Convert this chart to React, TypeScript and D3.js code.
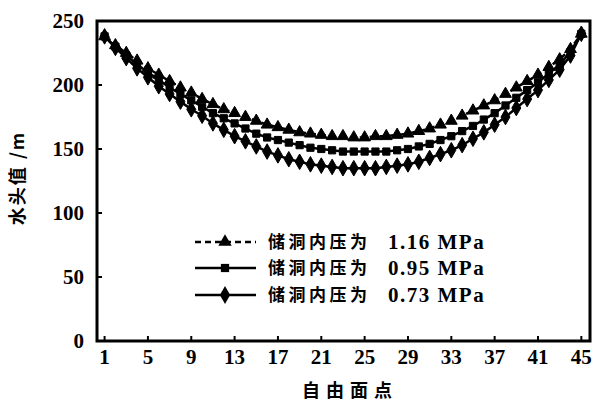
import React from "react";
import * as d3 from "d3";

const points = d3.range(1, 46);
const s116 = [238,231,225,219,213,208,203,198,194,189,185,181,178,175,172,169,167,165,163,162,161,160,160,159,159,160,160,161,162,164,166,169,172,176,180,184,188,193,198,203,208,214,220,228,240];
const s095 = [238,230,223,216,210,204,198,193,188,183,178,174,170,166,162,159,157,155,153,151,150,149,148,148,148,148,148,149,150,152,154,157,160,164,168,173,178,184,190,196,202,209,216,226,240];
const s073 = [238,229,221,213,206,199,193,187,181,176,170,165,160,156,152,148,145,142,140,138,137,136,135,135,135,135,136,137,138,140,143,146,149,153,158,163,169,175,182,189,196,204,212,223,240];
const xTicks = [1,5,9,13,17,21,25,29,33,37,41,45];
const yTicks = [0,50,100,150,200,250];
const seriesNames = ["储洞内压为", "储洞内压为", "储洞内压为"];
const seriesValues = ["1.16 MPa", "0.95 MPa", "0.73 MPa"];

const L = 97, R = 590, T = 21, B = 341;
const numFont = "'Liberation Serif', 'DejaVu Serif', serif";
const cjkFont = "'Noto Sans CJK SC', sans-serif";

export default function App() {
  const x = d3.scaleLinear().domain([0.3, 45.8]).range([L, R]);
  const y = d3.scaleLinear().domain([0, 250]).range([B, T]);
  const line = d3.line<number>().x((_, i) => x(points[i])).y((v) => y(v));
  const series = [
    { data: s116, sym: d3.symbolTriangle, size: 60, dash: "6,4" },
    { data: s095, sym: d3.symbolSquare, size: 52, dash: "" },
    { data: s073, sym: d3.symbolDiamond, size: 70, dash: "" },
  ];
  const legendY = [242, 268, 295];
  return (
    <svg width={595} height={402} style={{ position: "absolute", left: 0, top: 0, background: "#fff" }}>
      <rect x={0} y={0} width={595} height={402} fill="#fff" />
      {series.map((s, k) => (
        <g key={k}>
          <path d={line(s.data) || ""} fill="none" stroke="#000" strokeWidth={2.5} strokeDasharray={s.dash || undefined} />
          {s.data.map((v, i) => (
            <path key={i} d={d3.symbol().type(s.sym).size(s.size)() || ""} transform={`translate(${x(points[i])},${y(v)})`} fill="#000" stroke="#000" strokeWidth={1} />
          ))}
        </g>
      ))}
      <rect x={L} y={T} width={R - L} height={B - T} fill="none" stroke="#000" strokeWidth={3} />
      {yTicks.map((t) => (
        <g key={t}>
          <line x1={L} x2={L + 5} y1={y(t)} y2={y(t)} stroke="#000" strokeWidth={2} />
          <text x={84} y={y(t) + 7} textAnchor="end" fontFamily={numFont} fontWeight="bold" fontSize={21}>{t}</text>
        </g>
      ))}
      {xTicks.map((t) => (
        <g key={t}>
          <line x1={x(t)} x2={x(t)} y1={B} y2={B - 5} stroke="#000" strokeWidth={2} />
          <text x={x(t)} y={364} textAnchor="middle" fontFamily={numFont} fontWeight="bold" fontSize={21}>{t}</text>
        </g>
      ))}
      <text x={350} y={397} textAnchor="middle" fontFamily={cjkFont} fontWeight="bold" fontSize={18} letterSpacing={6}>自由面点</text>
      <text transform="translate(24,178) rotate(-90)" textAnchor="middle" fontFamily={cjkFont} fontWeight="bold" fontSize={18} letterSpacing={2}>水头值 /m</text>
      {series.map((s, k) => (
        <g key={"lg" + k}>
          <line x1={195} x2={256} y1={legendY[k]} y2={legendY[k]} stroke="#000" strokeWidth={2.5} strokeDasharray={s.dash || undefined} />
          <path d={d3.symbol().type(s.sym).size(s.size * 1.3)() || ""} transform={`translate(225,${legendY[k]})`} fill="#000" />
          <text x={268} y={legendY[k] + 6} fontFamily={cjkFont} fontWeight="bold" fontSize={17} letterSpacing={3.5}>{seriesNames[k]}</text>
          <text x={388} y={legendY[k] + 7} fontFamily={numFont} fontWeight="bold" fontSize={21} letterSpacing={1.5}>{seriesValues[k]}</text>
        </g>
      ))}
    </svg>
  );
}
